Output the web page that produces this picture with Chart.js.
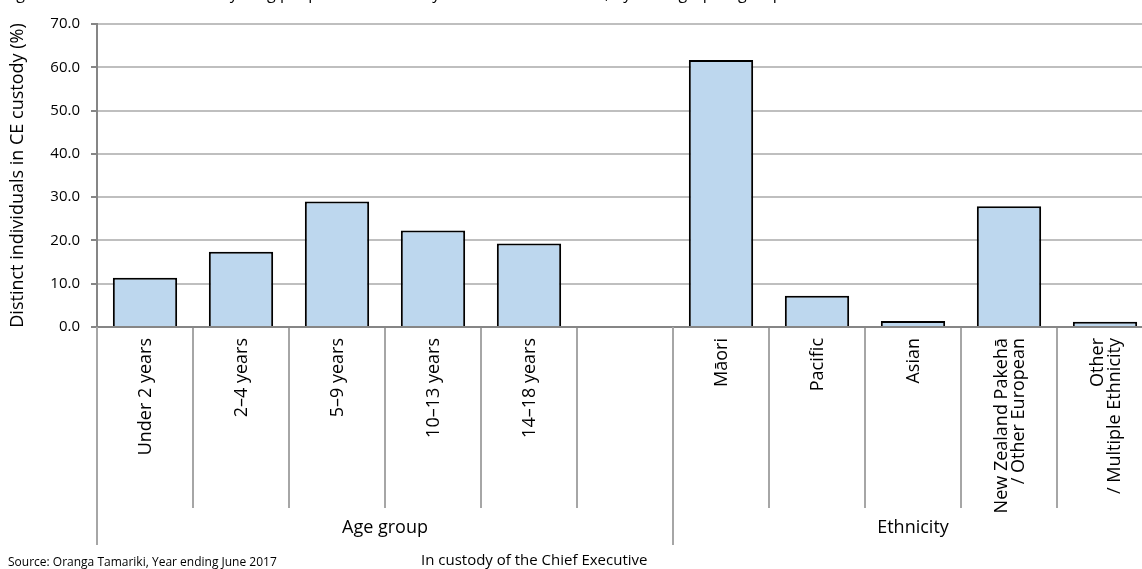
<!DOCTYPE html>
<html><head><meta charset="utf-8">
<script src="https://cdn.jsdelivr.net/npm/chart.js@4/dist/chart.umd.min.js"></script>
<style>html,body{margin:0;padding:0;overflow:hidden;background:#fff}#wrap{width:1153px;height:569px;position:relative}</style>
</head><body><div id="wrap"><canvas id="c" width="1153" height="569"></canvas></div>
<script>
const categories = ['Under 2 years','2–4 years','5–9 years','10–13 years','14–18 years','','Māori','Pacific','Asian',['New Zealand Pakehā','/ Other European'],['Other','/ Multiple Ethnicity']];
const values = [11.4,17.4,29.0,22.3,19.3,null,61.7,7.2,1.4,27.9,1.2];
const groupNames = ['Age group','Ethnicity'];
const groupStart = [0,6];
const groupEnd = [5,10];
const yMin = 0, yMax = 70, yStep = 10;
const titleText = 'Figure 3: Distinct children and young people in the custody of the Chief Executive, by demographic group';
const yTitle = 'Distinct individuals in CE custody (%)';
const xTitle = 'In custody of the Chief Executive';
const sourceText = 'Source: Oranga Tamariki, Year ending June 2017';

const FONT = "'Open Sans', sans-serif";
Chart.defaults.font.family = FONT;
Chart.defaults.color = '#000';

const extras = {
  id: 'extras',
  afterDraw(chart) {
    const ctx = chart.ctx, xs = chart.scales.x, a = chart.chartArea;
    const half = (xs.getPixelForValue(1) - xs.getPixelForValue(0)) / 2;
    ctx.save();
    ctx.fillStyle = '#000';
    ctx.font = '18px ' + FONT;
    const lh = 17;
    categories.forEach((lab, i) => {
      const lines = Array.isArray(lab) ? lab : [lab];
      const px = xs.getPixelForValue(i);
      ctx.save();
      ctx.translate(px, a.bottom + 11);
      ctx.rotate(-Math.PI / 2);
      ctx.textAlign = 'right';
      ctx.textBaseline = 'middle';
      lines.forEach((t, j) => ctx.fillText(t, 0, (j - (lines.length - 1) / 2) * lh + 1));
      ctx.restore();
    });
    ctx.lineWidth = 2;
    ctx.strokeStyle = '#a6a6a6';
    ctx.textAlign = 'center';
    ctx.textBaseline = 'middle';
    groupNames.forEach((g, i) => {
      const l = xs.getPixelForValue(groupStart[i]) - half;
      const r = xs.getPixelForValue(groupEnd[i]) + half;
      ctx.beginPath(); ctx.moveTo(l, a.bottom); ctx.lineTo(l, a.bottom + 218); ctx.stroke();
      ctx.fillText(g, (l + r) / 2, a.bottom + 201);
    });
    ctx.textAlign = 'left';
    ctx.font = '15px ' + FONT;
    ctx.fillText(xTitle, 421, 561);
    ctx.font = '12px ' + FONT;
    ctx.fillText(sourceText, 8, 563);
    ctx.font = '16px ' + FONT;
    ctx.textBaseline = 'alphabetic';
    ctx.fillText(titleText, 4, -1);
    ctx.restore();
  }
};

new Chart(document.getElementById('c'), {
  type: 'bar',
  data: { labels: categories, datasets: [{ data: values, backgroundColor: '#bdd7ee', borderColor: '#000', borderWidth: 2, barPercentage: 0.67, categoryPercentage: 1 }] },
  options: {
    responsive: false, animation: false,
    layout: { padding: { top: 24, left: 0, right: 0, bottom: 0 } },
    plugins: { legend: { display: false }, tooltip: { enabled: false } },
    scales: {
      x: {
        afterFit(s) { s.height = 242; },
        grid: { offset: true, drawOnChartArea: false, tickLength: 181, color: '#a6a6a6', lineWidth: 2 },
        border: { color: '#868686', width: 2 },
        ticks: { display: false, autoSkip: false }
      },
      y: {
        min: yMin, max: yMax,
        afterFit(s) { s.width = 97; },
        grid: { color: '#bfbfbf', lineWidth: 2, tickLength: 6, tickColor: '#868686' },
        border: { color: '#868686', width: 2 },
        ticks: { stepSize: yStep, padding: 11, font: { size: 15 }, callback: v => v.toFixed(1) },
        title: { display: true, text: yTitle, font: { size: 18 }, padding: { top: 7, bottom: 0 } }
      }
    }
  },
  plugins: [extras]
});
</script></body></html>
